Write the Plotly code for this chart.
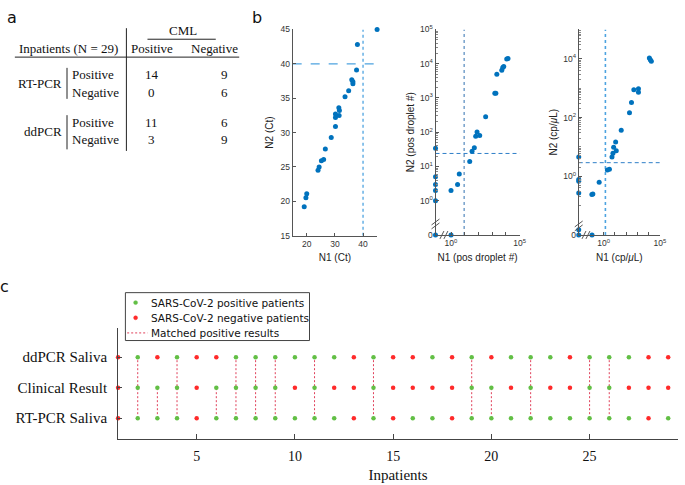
import plotly.graph_objects as go

W, H = 685, 485
def px(x): return x / W
def py(y): return 1 - y / H

# ---------------- data ----------------
cml_cols = ["Positive", "Negative"]
test_rows = ["Positive", "Negative"]
rtpcr_table = [[14, 9], [0, 6]]
ddpcr_table = [[11, 6], [3, 9]]

# panel b1: Ct values
n1_ct = [45.0, 38.0, 37.7, 36.0, 36.4, 36.4, 34.9, 33.6, 31.4, 31.6, 31.5, 30.2,
         30.2, 30.2, 28.7, 26.6, 26.0, 25.2, 24.4, 24.0, 20.0, 19.7, 19.1]
n2_ct = [45.0, 42.8, 39.1, 37.7, 37.4, 37.1, 36.1, 35.2, 33.6, 33.2, 32.5, 32.7,
         32.2, 30.9, 29.3, 27.6, 26.1, 25.9, 25.0, 24.5, 21.1, 20.5, 19.2]
ct_cut = 40

# panel b2: positive droplet counts
n1_drop = [0, 0, 0, 0, 0, 0, 1, 1, 3, 4, 23, 34, 50, 63, 79, 123, 333, 1560, 1850,
           2180, 5000, 5900, 6950, 11500, 14200]
n2_drop = [34, 5, 3, 2, 1, 0, 0, 2, 3, 6, 14, 28, 35, 76, 101, 80, 283, 1380, 1380,
           4900, 6450, 7750, 8250, 13700, 14200]
drop_cut_n1 = 9
drop_cut_n2 = 24

# panel b3: concentrations (cp/uL)
n1_conc = [0, 0, 0, 0, 0, 0, 0.087, 0.107, 0.09, 0.39, 2.1, 3.2, 5.4, 6.6, 7.6, 13,
           11.4, 36, 196, 295, 478, 1230, 1230, 11500, 14100, 17300]
n2_conc = [4.5, 0.78, 0.68, 0.27, 0.015, 0, 0.24, 0.25, 0, 0.63, 1.62, 1.75, 4.5, 6.1,
           9.7, 7.4, 14.8, 37, 146, 324, 890, 960, 725, 10700, 9300, 8300]
conc_cut_n1 = 1.4
conc_cut_n2 = 2.9

# panel c
patients = list(range(1, 30))
ddpcr_saliva = [0,1,0,1,0,0,1,1,1,1,1,1,0,1,0,0,1,0,1,0,1,1,1,0,1,1,1,0,0]
clinical_result = [0,1,1,1,0,1,1,1,1,0,1,0,0,1,0,0,0,0,1,1,0,1,0,0,1,1,0,0,0]
rtpcr_saliva = [0,1,1,1,0,1,1,1,1,1,1,1,0,1,0,1,1,0,1,1,1,1,1,1,1,1,1,0,1]
row_labels = ["RT-PCR Saliva", "Clinical Result", "ddPCR Saliva"]
legend_labels = ["SARS-CoV-2 positive patients", "SARS-CoV-2 negative patients",
                 "Matched positive results"]

# ---------------- styling ----------------
BLUE = "#0072BD"
LBLUE = "#4DA3E0"
GREEN = "#62BF45"
RED = "#FF2A2A"
MATCH = "#E0405A"
AX = "#555555"
SANS = "Liberation Sans"
SERIF = "Liberation Serif"

fig = go.Figure()

# ---------- panel b1 ----------
fig.add_trace(go.Scatter(x=[ct_cut, ct_cut], y=[15, 45], mode="lines",
                         line=dict(color=LBLUE, dash="dot", width=1.3),
                         xaxis="x", yaxis="y", showlegend=False, hoverinfo="skip"))
fig.add_trace(go.Scatter(x=[15, 45], y=[ct_cut, ct_cut], mode="lines",
                         line=dict(color=LBLUE, dash="dash", width=1.1),
                         xaxis="x", yaxis="y", showlegend=False, hoverinfo="skip"))
fig.add_trace(go.Scatter(x=n1_ct, y=n2_ct, mode="markers", cliponaxis=False,
                         marker=dict(color=BLUE, size=5),
                         xaxis="x", yaxis="y", showlegend=False))

# ---------- panel b2 ----------
x2_lo, y2_lo = 10 ** -1.13, 10 ** -1.0
x2 = [v if v > 0 else x2_lo for v in n1_drop]
y2 = [v if v > 0 else y2_lo for v in n2_drop]
fig.add_trace(go.Scatter(x=[drop_cut_n1, drop_cut_n1], y=[y2_lo, 1e5], mode="lines",
                         line=dict(color="#2F6FB0", dash="3px,3px", width=1),
                         xaxis="x2", yaxis="y2", showlegend=False, hoverinfo="skip"))
fig.add_trace(go.Scatter(x=[x2_lo, 1e5], y=[drop_cut_n2, drop_cut_n2], mode="lines",
                         line=dict(color="#2F7FC8", dash="4px,3px", width=1),
                         xaxis="x2", yaxis="y2", showlegend=False, hoverinfo="skip"))
fig.add_trace(go.Scatter(x=x2, y=y2, mode="markers", cliponaxis=False,
                         marker=dict(color=BLUE, size=5),
                         xaxis="x2", yaxis="y2", showlegend=False))

# ---------- panel b3 ----------
x3_lo, y3_lo = 10 ** -2.23, 10 ** -2.0
x3 = [v if v > 0 else x3_lo for v in n1_conc]
y3 = [v if v > 0 else y3_lo for v in n2_conc]
fig.add_trace(go.Scatter(x=[conc_cut_n1, conc_cut_n1], y=[y3_lo, 1e5], mode="lines",
                         line=dict(color=LBLUE, dash="dot", width=1.6),
                         xaxis="x3", yaxis="y3", showlegend=False, hoverinfo="skip"))
fig.add_trace(go.Scatter(x=[x3_lo, 1e5], y=[conc_cut_n2, conc_cut_n2], mode="lines",
                         line=dict(color="#2F7FC8", dash="4px,3px", width=1),
                         xaxis="x3", yaxis="y3", showlegend=False, hoverinfo="skip"))
fig.add_trace(go.Scatter(x=x3, y=y3, mode="markers", cliponaxis=False,
                         marker=dict(color=BLUE, size=5),
                         xaxis="x3", yaxis="y3", showlegend=False))

# ---------- panel c ----------
rows = [rtpcr_saliva, clinical_result, ddpcr_saliva]
pos_x, pos_y, neg_x, neg_y = [], [], [], []
for r, status in enumerate(rows):
    for p, s in zip(patients, status):
        if s:
            pos_x.append(p); pos_y.append(r + 1)
        else:
            neg_x.append(p); neg_y.append(r + 1)
mx, my = [], []
for p, c, d in zip(patients, clinical_result, ddpcr_saliva):
    if c:
        mx += [p, p, None]
        my += [1, 3 if d else 2, None]

fig.add_trace(go.Scatter(x=mx, y=my, mode="lines", name=legend_labels[2],
                         line=dict(color=MATCH, dash="2px,2px", width=1),
                         xaxis="x4", yaxis="y4", showlegend=False, hoverinfo="skip"))
fig.add_trace(go.Scatter(x=pos_x, y=pos_y, mode="markers", cliponaxis=False,
                         name=legend_labels[0], marker=dict(color=GREEN, size=4.5),
                         xaxis="x4", yaxis="y4", showlegend=False))
fig.add_trace(go.Scatter(x=neg_x, y=neg_y, mode="markers", cliponaxis=False,
                         name=legend_labels[1], marker=dict(color=RED, size=4.5),
                         xaxis="x4", yaxis="y4", showlegend=False))

def sup(k):
    return "10<sup>%d</sup>" % k

common = dict(showgrid=False, zeroline=False, showline=True, linecolor=AX, linewidth=1,
              ticks="inside", ticklen=3, tickcolor=AX,
              tickfont=dict(family=SANS, size=8.5, color="#333"))
tfont = dict(family=SANS, size=10, color="#222")

minor2 = [m * 10 ** k for k in range(0, 5) for m in range(2, 10)]
minor3 = [m * 10 ** k for k in range(-1, 5) for m in range(1, 10)]

fig.update_layout(
    width=W, height=H, margin=dict(l=0, r=0, t=0, b=0),
    paper_bgcolor="white", plot_bgcolor="rgba(0,0,0,0)",
    showlegend=False,
    xaxis=dict(domain=[px(295.7), px(381)], range=[15, 45], tickvals=[20, 30, 40],
               anchor="y", title=dict(text="N1 (Ct)", font=tfont, standoff=6), **common),
    yaxis=dict(domain=[py(235), py(24)], range=[15, 45], dtick=5, anchor="x",
               title=dict(text="N2 (Ct)", font=tfont, standoff=5), **common),
    xaxis2=dict(domain=[px(440), px(525)], type="log", range=[-1.13, 5], anchor="y2",
                tickvals=[1, 10, 100, 1e3, 1e4, 1e5],
                ticktext=[sup(0), "", "", "", "", sup(5)],
                title=dict(text="N1 (pos droplet #)", font=tfont, standoff=6), **common),
    yaxis2=dict(domain=[py(234.3), py(24)], type="log", range=[-1, 5], anchor="x2",
                tickvals=[0.1, 1, 10, 100, 1e3, 1e4, 1e5],
                ticktext=["0"] + [sup(k) for k in range(0, 6)],
                minor=dict(tickvals=minor2, ticks="inside", ticklen=2, tickcolor="#888"),
                title=dict(text="N2 (pos droplet #)", font=tfont, standoff=3), **common),
    xaxis3=dict(domain=[px(584.7), px(666.7)], type="log", range=[-2.23, 5], anchor="y3",
                tickvals=[1, 10, 100, 1e3, 1e4, 1e5],
                ticktext=[sup(0), "", "", "", "", sup(5)],
                title=dict(text="N1 (cp/<i>μ</i>L)", font=tfont, standoff=6), **common),
    yaxis3=dict(domain=[py(234.3), py(24)], type="log", range=[-2, 5], anchor="x3",
                tickvals=[0.01, 1, 100, 1e4],
                ticktext=["0", sup(0), sup(2), sup(4)],
                minor=dict(tickvals=minor3, ticks="inside", ticklen=2, tickcolor="#888"),
                title=dict(text="N2 (cp/<i>μ</i>L)", font=tfont, standoff=3), **common),
    xaxis4=dict(domain=[px(119.3), 1], range=[1, 29.5], anchor="y4",
                tickvals=[5, 10, 15, 20, 25], showgrid=False, zeroline=False,
                showline=True, linecolor="#444", ticks="inside", ticklen=5, tickcolor="#444",
                ticklabelstandoff=4,
                tickfont=dict(family=SERIF, size=14, color="#111"),
                title=dict(text="Inpatients", font=dict(family=SERIF, size=15, color="#111"),
                           standoff=6)),
    yaxis4=dict(domain=[py(443.3), py(329.3)], range=[0.31, 3.96], anchor="x4",
                tickvals=[1, 2, 3], ticktext=row_labels, showgrid=False, zeroline=False,
                showline=True, linecolor="#444", ticks="inside", ticklen=4, tickcolor="#444",
                ticklabelstandoff=7,
                tickfont=dict(family=SERIF, size=15, color="#111")),
)

# ---------- text + rules ----------
ann = []
def txt(x, y, s, size=13, anchor="center", family=SERIF, color="#111"):
    ann.append(dict(x=px(x), y=py(y), xref="paper", yref="paper", text=s,
                    showarrow=False, xanchor=anchor, yanchor="middle",
                    font=dict(family=family, size=size, color=color)))

shapes = []
def seg(x0, y0, x1, y1, color="#222", width=1, dash="solid"):
    shapes.append(dict(type="line", xref="paper", yref="paper",
                       x0=px(x0), y0=py(y0), x1=px(x1), y1=py(y1),
                       line=dict(color=color, width=width, dash=dash)))

txt(12, 12, "a", size=16, family="DejaVu Sans")
txt(260, 12, "b", size=16, family="DejaVu Sans")
txt(5, 287, "c", size=16, family="DejaVu Sans")

# panel a table
col_x = [154, 217]
txt(185, 25, "CML")
txt(121, 43, "Inpatients (N = 29)", anchor="right")
for cx, name in zip(col_x, cml_cols):
    txt(cx, 43, name)
for label, tbl, ys in (("RT-PCR", rtpcr_table, (70, 88.5)), ("ddPCR", ddpcr_table, (119, 137))):
    txt(65, (ys[0] + ys[1]) / 2, label, anchor="right")
    for yy, rname, vals in zip(ys, test_rows, tbl):
        txt(71, yy, rname, anchor="left")
        for vx, v in zip([153.5, 226.5], vals):
            txt(vx, yy, str(v))

seg(149, 34, 218, 34)
seg(127.7, 22.7, 127.7, 148.3)
seg(15, 52.3, 241.7, 52.3)
seg(67.7, 63.3, 67.7, 95)
seg(67.7, 111.7, 67.7, 146.7)

# axis-break marks on log panels
def brk_y(cx, cy):
    for d in (-2, 2):
        seg(cx - 4, cy + d + 3, cx + 4, cy + d - 3, color="#555")
def brk_x(cx, cy):
    for d in (-2, 2):
        seg(cx + d - 2, cy + 4, cx + d + 2, cy - 4, color="#555")

brk_y(440, 223)
brk_x(448.5, 234.3)
brk_y(584.7, 225)
brk_x(592, 234.3)

# panel c legend box
shapes.append(dict(type="rect", xref="paper", yref="paper",
                   x0=px(126.7), y0=py(342.3), x1=px(312.7), y1=py(293.3),
                   line=dict(color="#444", width=1), fillcolor="white"))
leg_y = [303.5, 319, 334.5]
for yy, col in zip(leg_y[:2], [GREEN, RED]):
    shapes.append(dict(type="circle", xref="paper", yref="paper",
                       x0=px(135), y0=py(yy + 2), x1=px(139), y1=py(yy - 2),
                       line=dict(color=col, width=0.5), fillcolor=col))
seg(128.5, leg_y[2], 149, leg_y[2], color=MATCH, dash="2px,2px")
for yy, lab in zip(leg_y, legend_labels):
    txt(150.5, yy, lab, size=10.5, anchor="left", family="DejaVu Sans")

fig.update_layout(annotations=ann, shapes=shapes)
fig.write_html("out.html", post_script="document.body.style.margin='0';",
               config={"displayModeBar": False})
